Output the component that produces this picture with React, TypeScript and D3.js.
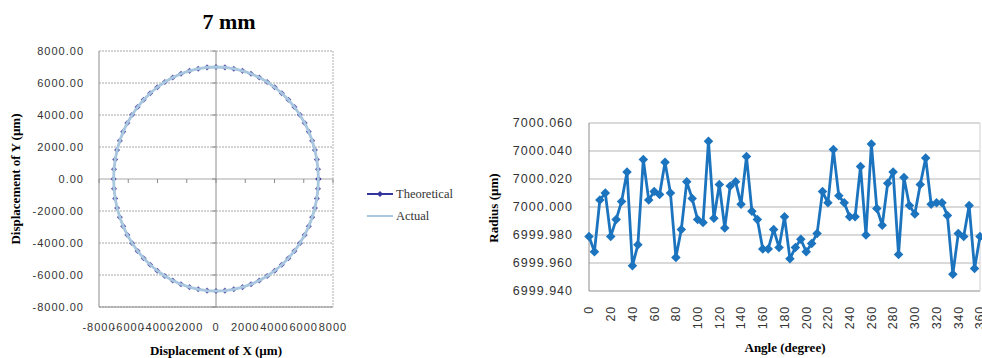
import React from 'react';
import * as d3 from 'd3';

// measured angle (degree) and radius (µm), every 5 degrees
const angles = [0, 5, 10, 15, 20, 25, 30, 35, 40, 45, 50, 55, 60, 65, 70, 75, 80, 85, 90, 95,
  100, 105, 110, 115, 120, 125, 130, 135, 140, 145, 150, 155, 160, 165, 170, 175, 180, 185, 190, 195,
  200, 205, 210, 215, 220, 225, 230, 235, 240, 245, 250, 255, 260, 265, 270, 275, 280, 285, 290, 295,
  300, 305, 310, 315, 320, 325, 330, 335, 340, 345, 350, 355, 360];

const radius = [6999.979, 6999.968, 7000.005, 7000.010, 6999.979, 6999.991, 7000.004, 7000.025, 6999.958, 6999.973,
  7000.034, 7000.005, 7000.011, 7000.009, 7000.032, 7000.010, 6999.964, 6999.984, 7000.018, 7000.006,
  6999.991, 6999.989, 7000.047, 6999.992, 7000.016, 6999.985, 7000.015, 7000.018, 7000.002, 7000.036,
  6999.997, 6999.991, 6999.970, 6999.970, 6999.984, 6999.971, 6999.993, 6999.963, 6999.971, 6999.977,
  6999.968, 6999.974, 6999.981, 7000.011, 7000.003, 7000.041, 7000.008, 7000.003, 6999.993, 6999.993,
  7000.029, 6999.980, 7000.045, 6999.999, 6999.987, 7000.017, 7000.025, 6999.966, 7000.021, 7000.001,
  6999.995, 7000.016, 7000.035, 7000.002, 7000.003, 7000.003, 6999.994, 6999.952, 6999.981, 6999.979,
  7000.001, 6999.956, 6999.979];

const theoreticalRadius = 7000;

const xyTicks = [-8000, -6000, -4000, -2000, 0, 2000, 4000, 6000, 8000];
const radiusTicks = [6999.94, 6999.96, 6999.98, 7000.0, 7000.02, 7000.04, 7000.06];
const angleTicks = [0, 20, 40, 60, 80, 100, 120, 140, 160, 180, 200, 220, 240, 260, 280, 300, 320, 340, 360];

const legendItems = ['Theoretical', 'Actual'];

const W = 982, H = 358;
const NAVY = '#34359a';
const ACTUAL = '#a9c7df';
const BLUE = '#1c74bf';
const SANS = '"Liberation Sans", Arial, sans-serif';
const SERIF = '"Liberation Serif", "Times New Roman", serif';

function CircleChart() {
  // plot area
  const L = 99, R = 333, T = 51, B = 307;
  const x = d3.scaleLinear().domain([-8000, 8000]).range([L, R]);
  const y = d3.scaleLinear().domain([-8000, 8000]).range([B, T]);
  const rad = (a: number) => (a * Math.PI) / 180;

  const theo = angles.map(a => [theoreticalRadius * Math.cos(rad(a)), theoreticalRadius * Math.sin(rad(a))]);
  const act = angles.map((a, i) => [radius[i] * Math.cos(rad(a)), radius[i] * Math.sin(rad(a))]);
  const line = d3.line<number[]>().x(d => x(d[0])).y(d => y(d[1]));
  const marker = d3.symbol(d3.symbolDiamond2, 24)();

  return (
    <g>
      <text x={229} y={29} textAnchor="middle" fontFamily={SERIF} fontWeight="bold" fontSize={22}>7 mm</text>
      {/* grid */}
      {xyTicks.map(t => (
        <line key={'g' + t} x1={L} x2={R} y1={y(t)} y2={y(t)} stroke="#a8a8a8" strokeDasharray={t === 0 ? undefined : '2,1'} />
      ))}
      <line x1={R} x2={R} y1={T} y2={B} stroke="#b0b0b0" strokeDasharray="2,1" />
      <line x1={L} x2={L} y1={T} y2={B} stroke="#8c8c8c" />
      <line x1={L} x2={R} y1={B} y2={B} stroke="#8c8c8c" />
      <line x1={x(0)} x2={x(0)} y1={T} y2={B} stroke="#8c8c8c" />
      {xyTicks.map(t => (
        <line key={'xt' + t} x1={x(t)} x2={x(t)} y1={y(0)} y2={y(0) + 4} stroke="#8c8c8c" />
      ))}
      {xyTicks.map(t => (
        <line key={'yt' + t} x1={x(0) - 4} x2={x(0)} y1={y(t)} y2={y(t)} stroke="#8c8c8c" />
      ))}
      {/* tick labels */}
      {xyTicks.map(t => (
        <text key={'yl' + t} x={L - 15} y={y(t)} dy="0.35em" textAnchor="end" fontFamily={SANS} fontSize={11}
          letterSpacing={1} fill="#333">{t.toFixed(2)}</text>
      ))}
      {xyTicks.map(t => (
        <text key={'xl' + t} x={x(t)} y={331} textAnchor="middle" fontFamily={SANS} fontSize={11}
          letterSpacing={1} fill="#333">{t}</text>
      ))}
      {/* series */}
      <path d={line(theo) || ''} fill="none" stroke={NAVY} strokeWidth={1.5} />
      {theo.map((d, i) => (
        <path key={'tm' + i} d={marker || ''} transform={`translate(${x(d[0])},${y(d[1])})`} fill={NAVY} opacity={0.8} />
      ))}
      <path d={line(act) || ''} fill="none" stroke={ACTUAL} strokeWidth={2.8} />
      {/* axis titles */}
      <text transform={`translate(20,${(T + B) / 2}) rotate(-90)`} textAnchor="middle" fontFamily={SERIF}
        fontWeight="bold" fontSize={13}>Displacement of Y (µm)</text>
      <text x={216} y={355} textAnchor="middle" fontFamily={SERIF} fontWeight="bold" fontSize={13}>Displacement of X (µm)</text>
      {/* legend */}
      {legendItems.map((name, i) => (
        <g key={name} transform={`translate(367,${194 + i * 22})`}>
          <line x1={0} x2={26} y1={0} y2={0} stroke={i === 0 ? NAVY : ACTUAL} strokeWidth={2} />
          {i === 0 && <path d={marker || ''} transform="translate(13,0)" fill={NAVY} />}
          <text x={29} y={0} dy="0.35em" fontFamily={SERIF} fontSize={12.5} fill="#333">{name}</text>
        </g>
      ))}
    </g>
  );
}

function RadiusChart() {
  const L = 589, R = 980, T = 123, B = 291;
  const x = d3.scaleLinear().domain([0, 360]).range([L, R]);
  const y = d3.scaleLinear().domain([6999.94, 7000.06]).range([B, T]);
  const line = d3.line<number>().x((d, i) => x(angles[i])).y(d => y(d));
  const marker = d3.symbol(d3.symbolDiamond2, 58)();

  return (
    <g>
      {radiusTicks.map(t => (
        <line key={'g' + t} x1={L} x2={R} y1={y(t)} y2={y(t)} stroke={t === 6999.94 ? '#8c8c8c' : '#b4b4b4'} />
      ))}
      <line x1={L} x2={L} y1={T} y2={B} stroke="#8c8c8c" />
      <line x1={R} x2={R} y1={T} y2={B} stroke="#d0d0d0" />
      {radiusTicks.map(t => (
        <text key={'yl' + t} x={573} y={y(t)} dy="0.35em" textAnchor="end" fontFamily={SANS} fontSize={12.5}
          letterSpacing={1} fill="#333">{t.toFixed(3)}</text>
      ))}
      {angleTicks.map(t => (
        <text key={'xl' + t} transform={`translate(${x(t)},306) rotate(-90)`} dy="0.35em" textAnchor="end"
          fontFamily={SANS} fontSize={12.5} letterSpacing={0.8} fill="#333">{t}</text>
      ))}
      <path d={line(radius) || ''} fill="none" stroke={BLUE} strokeWidth={2.8} strokeLinejoin="round" />
      {radius.map((d, i) => (
        <path key={'m' + i} d={marker || ''} transform={`translate(${x(angles[i])},${y(d)})`} fill={BLUE} />
      ))}
      <text transform={`translate(498,208) rotate(-90)`} textAnchor="middle" fontFamily={SERIF}
        fontWeight="bold" fontSize={13}>Radius (µm)</text>
      <text x={785} y={352} textAnchor="middle" fontFamily={SERIF} fontWeight="bold" fontSize={13}>Angle (degree)</text>
    </g>
  );
}

export default function App() {
  return (
    <svg width={W} height={H} style={{ position: 'absolute', left: 0, top: 0, background: '#fff' }}>
      <CircleChart />
      <RadiusChart />
    </svg>
  );
}
